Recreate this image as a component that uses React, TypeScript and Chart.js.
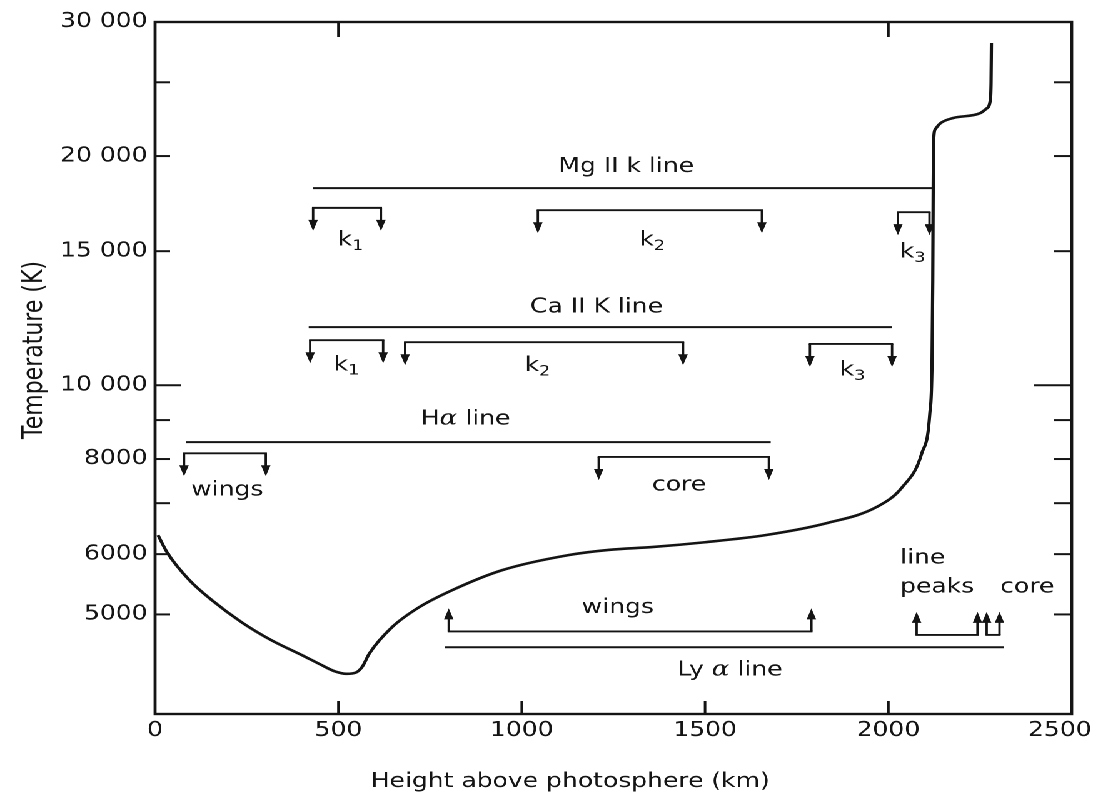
import React, { useEffect, useRef } from 'react';
import { Chart, registerables } from 'chart.js';

Chart.register(...registerables);

// Page size and the horizontal stretch applied to the drawing surface
const PAGE_W = 1098;
const PAGE_H = 803;
const CANVAS_W = 878;
const STRETCH = PAGE_W / CANVAS_W;

const INK = '#141414';
const FONT_FAMILY = '"DejaVu Sans", "Liberation Sans", sans-serif';
const TEXT_FONT = `20px ${FONT_FAMILY}`;
const SUB_FONT = `14px ${FONT_FAMILY}`;
const GREEK_FONT = `italic 21px "DejaVu Serif", serif`;

// Temperature profile of the solar atmosphere
const heightKm = [
  8, 33, 93, 155, 237, 319, 401, 450, 490, 522, 548, 566, 584, 646, 720, 810, 946, 1129, 1240,
  1355, 1500, 1669, 1832, 1968, 2037, 2091, 2113, 2119, 2121, 2122, 2123, 2128, 2142, 2177, 2251,
  2268, 2278, 2280, 2281,
];
const temperatureK = [
  6355, 6030, 5550, 5220, 4880, 4620, 4420, 4300, 4210, 4178, 4195, 4275, 4440, 4810, 5110, 5380,
  5715, 5985, 6080, 6130, 6220, 6360, 6590, 6920, 7340, 8140, 9190, 10690, 13740, 17510, 20800,
  21700, 22090, 22440, 22780, 23100, 23690, 24950, 28150,
];

// Axis ticks
const yTickValues = [5000, 6000, 7000, 8000, 9000, 10000, 15000, 20000, 25000, 30000];
const yTickLabels = ['5000', '6000', '', '8000', '', '10 000', '15 000', '20 000', '', '30 000'];
const xTickValues = [0, 500, 1000, 1500, 2000, 2500];
const xTickLabels = ['0', '500', '1000', '1500', '2000', '2500   '];
const topTickKm = [500, 2000];

// Height range over which each spectral line is formed
const lineNames = ['Mg II k line', 'Ca II K line', 'Hα line', 'Ly α line'];
const lineFromKm = [430, 419, 84, 791];
const lineToKm = [2120, 2009, 1679, 2315];
const lineLevelK = [18150, 11920, 8420, 4527];
const lineLabelKm = [1285, 1204, 847, 1568];
const lineLabelK = [19350, 12660, 9024, 4224];

// Formation ranges of line components (k_1 = k with subscript 1)
const partLabels = ['k_1', 'k_2', 'k_3', 'k_1', 'k_2', 'k_3', 'wings', 'core', 'wings', 'line\npeaks', 'core'];
const partFromKm = [431, 1044, 2026, 423, 682, 1786, 79, 1210, 801, 2077, 2268];
const partToKm = [616, 1655, 2112, 622, 1440, 2010, 302, 1674, 1790, 2243, 2303];
const partLevelK = [17100, 16980, 16880, 11460, 11390, 11330, 8140, 8050, 4750, 4700, 4700];
const partArrow = ['down', 'down', 'down', 'down', 'down', 'down', 'down', 'down', 'up', 'up', 'up'];
const partLabelKm = [533, 1356, 2066, 522, 1043, 1902, 197, 1429, 1262, 2133, 2379];
const partLabelK = [15500, 15500, 14950, 10630, 10600, 10460, 7280, 7390, 5100, 5672, 5427];

type Run = { text: string; font: string; dy: number };

function runsOf(label: string): Run[] {
  const runs: Run[] = [];
  for (let i = 0; i < label.length; i++) {
    const c = label[i];
    if (c === '_' && i + 1 < label.length) {
      runs.push({ text: label[i + 1], font: SUB_FONT, dy: 6 });
      i++;
    } else if (c === 'α') {
      runs.push({ text: c, font: GREEK_FONT, dy: 0 });
    } else {
      const last = runs[runs.length - 1];
      if (last && last.font === TEXT_FONT) last.text += c;
      else runs.push({ text: c, font: TEXT_FONT, dy: 0 });
    }
  }
  return runs;
}

function runsWidth(ctx: CanvasRenderingContext2D, runs: Run[]) {
  let w = 0;
  for (const r of runs) {
    ctx.font = r.font;
    w += ctx.measureText(r.text).width;
  }
  return w;
}

function drawRuns(ctx: CanvasRenderingContext2D, runs: Run[], x: number, y: number) {
  let cx = x;
  for (const r of runs) {
    ctx.font = r.font;
    ctx.fillText(r.text, cx, y + r.dy);
    cx += ctx.measureText(r.text).width;
  }
}

// Centred label; a multi-line label is left-aligned inside its centred block
function drawLabel(ctx: CanvasRenderingContext2D, label: string, x: number, y: number) {
  const lines = label.split('\n').map(runsOf);
  const widths = lines.map((r) => runsWidth(ctx, r));
  const lineH = 29;
  const maxW = Math.max(...widths);
  const y0 = y - ((lines.length - 1) * lineH) / 2;
  ctx.textAlign = 'left';
  ctx.textBaseline = 'middle';
  lines.forEach((runs, i) => {
    const left = lines.length > 1 ? x - maxW / 2 : x - widths[i] / 2;
    drawRuns(ctx, runs, left, y0 + i * lineH);
  });
}

function seg(ctx: CanvasRenderingContext2D, x1: number, y1: number, x2: number, y2: number) {
  ctx.beginPath();
  ctx.moveTo(x1, y1);
  ctx.lineTo(x2, y2);
  ctx.stroke();
}

function arrow(ctx: CanvasRenderingContext2D, x: number, yFrom: number, dir: number) {
  const stem = 23;
  const headLen = 11;
  const headHalf = 3.8;
  const tip = yFrom + dir * stem;
  seg(ctx, x, yFrom, x, tip - dir * headLen * 0.6);
  ctx.beginPath();
  ctx.moveTo(x, tip);
  ctx.lineTo(x - headHalf, tip - dir * headLen);
  ctx.lineTo(x + headHalf, tip - dir * headLen);
  ctx.closePath();
  ctx.fill();
}

const figurePlugin = {
  id: 'figure',
  afterDatasetsDraw(chart: Chart) {
    const { ctx, chartArea: a } = chart;
    const xs = chart.scales.x;
    const ys = chart.scales.y;
    const X = (v: number) => xs.getPixelForValue(v);
    const Y = (v: number) => ys.getPixelForValue(v);
    ctx.save();
    ctx.strokeStyle = INK;
    ctx.fillStyle = INK;
    ctx.lineCap = 'butt';

    // frame
    ctx.lineWidth = 2.4;
    ctx.strokeRect(a.left, a.top, a.width, a.height);

    // inward tick marks
    ctx.lineWidth = 2;
    yTickValues.forEach((v) => {
      if (v >= 30000) return;
      const y = Y(v);
      const major = v === 10000;
      seg(ctx, a.left, y, a.left + (major ? 21 : 12), y);
      seg(ctx, a.right, y, a.right - (major ? 30 : 14), y);
    });
    xTickValues.forEach((v) => {
      if (v <= 0 || v >= 2500) return;
      seg(ctx, X(v), a.bottom, X(v), a.bottom - 13);
    });
    topTickKm.forEach((v) => seg(ctx, X(v), a.top, X(v), a.top + 15));

    // spectral line ranges
    ctx.lineWidth = 2;
    lineNames.forEach((name, i) => {
      const y = Y(lineLevelK[i]);
      seg(ctx, X(lineFromKm[i]), y, X(lineToKm[i]), y);
      drawLabel(ctx, name, X(lineLabelKm[i]), Y(lineLabelK[i]));
    });

    // component ranges with arrows
    ctx.lineWidth = 1.9;
    partLabels.forEach((label, i) => {
      const y = Y(partLevelK[i]);
      const x1 = X(partFromKm[i]);
      const x2 = X(partToKm[i]);
      const dir = partArrow[i] === 'up' ? -1 : 1;
      seg(ctx, x1 - 0.9, y, x2 + 0.9, y);
      arrow(ctx, x1, y, dir);
      arrow(ctx, x2, y, dir);
      drawLabel(ctx, label, X(partLabelKm[i]), Y(partLabelK[i]));
    });

    // axis titles
    ctx.font = `20px ${FONT_FAMILY}`;
    ctx.textAlign = 'center';
    ctx.textBaseline = 'middle';
    ctx.fillText('Height above photosphere (km)', 456, 782);
    ctx.save();
    ctx.translate(28, 350);
    ctx.rotate(-Math.PI / 2);
    ctx.font = `22px ${FONT_FAMILY}`;
    ctx.fillText('Temperature (K)', 0, 0);
    ctx.restore();

    ctx.restore();
  },
};

export default function App() {
  const ref = useRef<HTMLCanvasElement>(null);

  useEffect(() => {
    const canvas = ref.current;
    if (!canvas) return;
    const chart = new Chart(canvas, {
      type: 'line',
      data: {
        datasets: [
          {
            data: heightKm.map((h, i) => ({ x: h, y: temperatureK[i] })),
            borderColor: INK,
            borderWidth: 2.6,
            pointRadius: 0,
            fill: false,
            cubicInterpolationMode: 'monotone',
          },
        ],
      },
      options: {
        animation: false,
        responsive: false,
        devicePixelRatio: 2,
        layout: { padding: { left: 0, top: 22, right: CANVAS_W - 857, bottom: 0 } },
        plugins: { legend: { display: false }, tooltip: { enabled: false } },
        scales: {
          x: {
            type: 'linear',
            min: 0,
            max: 2500,
            grid: { display: false, drawTicks: false },
            border: { display: false },
            afterBuildTicks: (s: any) => {
              s.ticks = xTickValues.map((v) => ({ value: v }));
            },
            ticks: {
              padding: 5,
              color: INK,
              font: { family: FONT_FAMILY, size: 20 },
              maxRotation: 0,
              autoSkip: false,
              callback: (value: any) => {
                const idx = xTickValues.indexOf(Number(value));
                return idx >= 0 ? xTickLabels[idx] : '';
              },
            },
            afterFit: (s: any) => {
              s.height = PAGE_H - 714;
              s.paddingLeft = 0;
              s.paddingRight = 0;
            },
          },
          y: {
            type: 'logarithmic',
            min: 3700,
            max: 30000,
            grid: { display: false, drawTicks: false },
            border: { display: false },
            afterBuildTicks: (s: any) => {
              s.ticks = yTickValues.map((v) => ({ value: v }));
            },
            ticks: {
              autoSkip: false,
              padding: 6,
              color: INK,
              font: { family: FONT_FAMILY, size: 20 },
              callback: (value: any) => {
                const idx = yTickValues.indexOf(Number(value));
                return idx >= 0 ? yTickLabels[idx] : '';
              },
            },
            afterFit: (s: any) => {
              s.width = 124;
              s.paddingTop = 0;
              s.paddingBottom = 0;
            },
          },
        },
      },
      plugins: [figurePlugin],
    } as any);
    return () => chart.destroy();
  }, []);

  return (
    <div
      style={{
        position: 'fixed',
        left: 0,
        top: 0,
        width: CANVAS_W,
        height: PAGE_H,
        transform: `scaleX(${STRETCH})`,
        transformOrigin: '0 0',
        background: '#fff',
      }}
    >
      <canvas
        ref={ref}
        width={CANVAS_W}
        height={PAGE_H}
        style={{ width: CANVAS_W, height: PAGE_H, display: 'block' }}
      />
    </div>
  );
}
